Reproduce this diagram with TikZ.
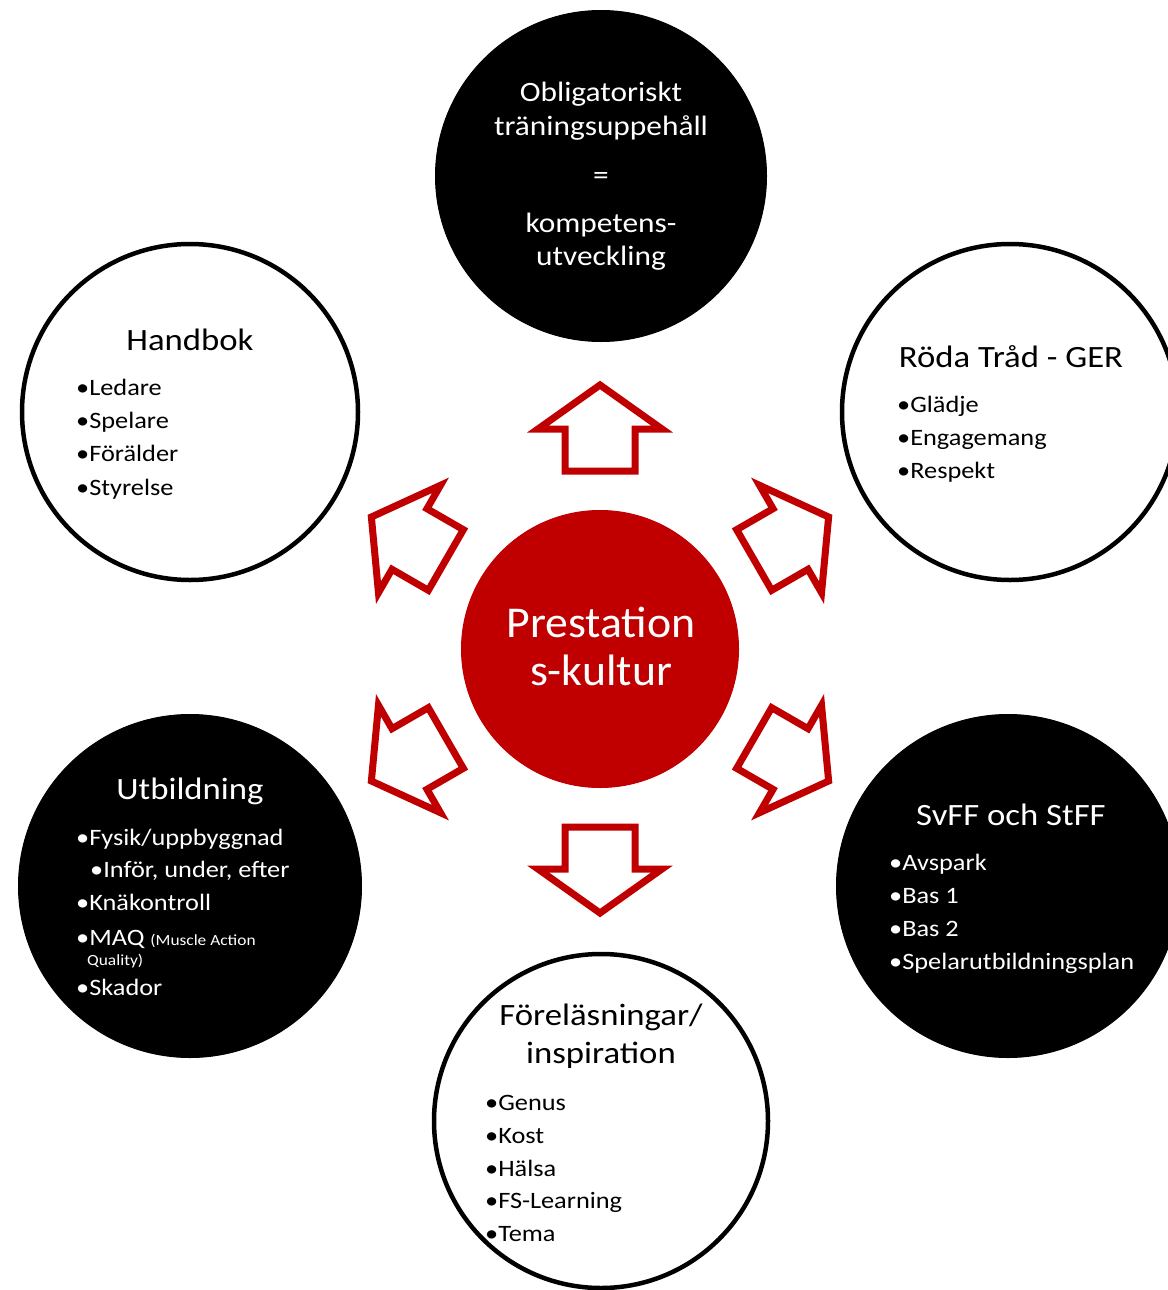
\documentclass[tikz,border=0pt]{standalone}
\usepackage{fontspec}
\setmainfont{Carlito}[FakeStretch=1.12]
\newfontfamily\centfont{Carlito}[FakeStretch=1.04]
\definecolor{dred}{HTML}{C00000}
\begin{document}
\begin{tikzpicture}[x=1pt,y=-1pt,
  wcirc/.style={circle,draw=black,fill=white,line width=4.5pt,inner sep=0,outer sep=0},
  bcirc/.style={circle,draw=black,fill=black,line width=1pt,inner sep=0,outer sep=0},
  rcirc/.style={circle,draw=dred,fill=dred,line width=1pt,inner sep=0,outer sep=0},
  blockarrow/.style={draw=dred,fill=white,line width=7pt,miter limit=10,line join=miter},
  ttl/.style={font=\fontsize{31}{34}\selectfont,inner sep=0,anchor=base},
  toptxt/.style={font=\fontsize{28}{34}\selectfont,inner sep=0,anchor=base,text=white},
  cent/.style={font=\centfont\fontsize{44}{48}\selectfont,inner sep=0,anchor=base,text=white},
  itm/.style={font=\fontsize{23.5}{28}\selectfont,inner sep=0,anchor=base west},
  small/.style={font=\fontsize{15.5}{18}\selectfont,inner sep=0,anchor=base west}]
\useasboundingbox (0,0) rectangle (1167,1290);
% circles
\node[bcirc,minimum size=331] (top) at (601,176) {};
\node[wcirc,minimum size=336] (handbok) at (190,412) {};
\node[wcirc,minimum size=336] (roda) at (1010,412) {};
\node[bcirc,minimum size=343] (utb) at (190,886) {};
\node[bcirc,minimum size=343] (svff) at (1008,886) {};
\node[wcirc,minimum size=334] (forel) at (601,1121) {};
\node[rcirc,minimum size=277] (center) at (600,649) {};
% block arrows
\foreach \a in {90,30,150,210,270,330}{
  \begin{scope}[shift={(600,649)},rotate=\a]
    \draw[blockarrow] (178,-35) -- (220,-35) -- (220,-62) -- (264,0) -- (220,62) -- (220,35) -- (178,35) -- cycle;
  \end{scope}
}
% top circle text
\node[toptxt] (t1) at (601,101) {Obligatoriskt};
\node[toptxt] (t2) at (601,135) {träningsuppehåll};
\node[toptxt] (t3) at (601,184) {=};
\node[toptxt] (t4) at (601,232) {kompetens-};
\node[toptxt] (t5) at (601,265) {utveckling};
% center
\node[cent] (c1) at (601,637) {Prestation};
\node[cent] (c2) at (601,685) {s-kultur};
% Handbok
\node[ttl] (hbt) at (190,350) {Handbok};
\foreach \t [count=\i] in {Ledare,Spelare,Förälder,Styrelse}
  \node[itm] (hb\i) at (76,{395+33.4*(\i-1)}) {•\t};
% Röda tråd
\node[ttl] (rdt) at (1011,367) {Röda Tråd - GER};
\foreach \t [count=\i] in {Glädje,Engagemang,Respekt}
  \node[itm] (rd\i) at (897,{412+33.4*(\i-1)}) {•\t};
% Utbildning
\node[ttl,text=white] (ubt) at (190,799) {Utbildning};
\node[itm,text=white] (ub1) at (76,845) {•Fysik/uppbyggnad};
\node[itm,text=white] (ub2) at (90,877) {•Inför, under, efter};
\node[itm,text=white] (ub3) at (76,910) {•Knäkontroll};
\node[itm,text=white] (ub4) at (76,945) {•MAQ {\fontsize{15.5}{18}\selectfont (Muscle Action}};
\node[small,text=white] (ub5) at (87,965) {Quality)};
\node[itm,text=white] (ub6) at (76,995) {•Skador};
% SvFF
\node[ttl,text=white] (svt) at (1011,825) {SvFF och StFF};
\foreach \t [count=\i] in {Avspark,Bas 1,Bas 2,Spelarutbildningsplan}
  \node[itm,text=white] (sv\i) at (889,{870+33*(\i-1)}) {•\t};
% Föreläsningar
\node[ttl] (fot1) at (601,1025) {Föreläsningar/};
\node[ttl] (fot2) at (601,1063) {inspiration};
\foreach \t [count=\i] in {Genus,Kost,Hälsa,FS-Learning,Tema}
  \node[itm] (fo\i) at (485,{1110.5+32.8*(\i-1)}) {•\t};
\end{tikzpicture}
\end{document}
